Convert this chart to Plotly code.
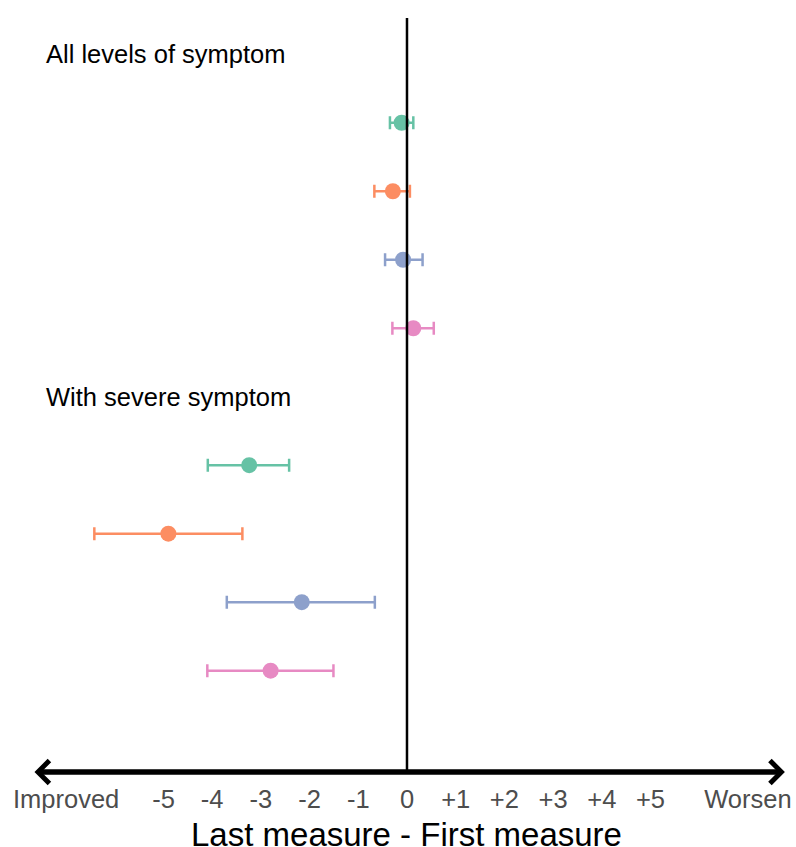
import plotly.graph_objects as go

# ---------------- data ----------------
section_labels = ["All levels of symptom", "With severe symptom"]
series_colors = ["#66c2a5", "#fc8d62", "#8da0cb", "#e78ac3"]

est_all = [-0.11, -0.29, -0.08, 0.13]
low_all = [-0.35, -0.67, -0.45, -0.30]
high_all = [0.13, 0.06, 0.32, 0.55]

est_sev = [-3.24, -4.90, -2.16, -2.80]
low_sev = [-4.09, -6.42, -3.70, -4.10]
high_sev = [-2.42, -3.38, -0.66, -1.51]

tick_vals = [-7, -5, -4, -3, -2, -1, 0, 1, 2, 3, 4, 5, 7]
tick_text = ["Improved", "-5", "-4", "-3", "-2", "-1", "0",
             "+1", "+2", "+3", "+4", "+5", "Worsen"]
x_title = "Last measure - First measure"

# ---------------- layout constants ----------------
FONT = "Liberation Sans, Arial, sans-serif"
x_range = [-8.357, 7.988]
y_range = [10.48, -0.53]
axis_y = y_range[0]

sections = [
    (0, est_all, low_all, high_all),
    (5, est_sev, low_sev, high_sev),
]

fig = go.Figure()
for row0, est, lo, hi in sections:
    for i, (e, l, h) in enumerate(zip(est, lo, hi)):
        fig.add_trace(go.Scatter(
            x=[e], y=[row0 + 1 + i],
            mode="markers",
            marker=dict(color=series_colors[i], size=16, line=dict(width=0)),
            error_x=dict(type="data", symmetric=False,
                         array=[h - e], arrayminus=[e - l],
                         color=series_colors[i], thickness=2.5, width=6.5),
            showlegend=False, cliponaxis=False, hoverinfo="skip",
        ))

annotations = []
for (row0, *_), label in zip(sections, section_labels):
    annotations.append(dict(
        x=-7.45, y=row0, xref="x", yref="y", text=label, showarrow=False,
        xanchor="left", yanchor="middle",
        font=dict(family=FONT, size=25.5, color="#000000"),
    ))

# double-headed axis arrow
annotations.append(dict(
    x=7.76, y=axis_y, ax=-7.68, ay=axis_y, xref="x", yref="y",
    axref="x", ayref="y", text="", showarrow=True,
    arrowside="end+start", arrowhead=4, startarrowhead=4,
    arrowsize=0.8, startarrowsize=0.8, arrowwidth=5.5, arrowcolor="#000000",
))

annotations.append(dict(
    x=0, y=-(835 - 772) / 754, xref="x", yref="paper",
    text=x_title, showarrow=False, xanchor="center", yanchor="middle",
    font=dict(family=FONT, size=33, color="#000000"),
))

fig.add_shape(type="line", x0=0, x1=0, y0=y_range[1], y1=axis_y,
              xref="x", yref="y", line=dict(color="#000000", width=2.5))

fig.update_layout(
    width=796, height=847,
    margin=dict(l=0, r=0, t=18, b=75),
    paper_bgcolor="white", plot_bgcolor="white",
    annotations=annotations,
    xaxis=dict(range=x_range, tickvals=tick_vals, ticktext=tick_text,
               showgrid=False, zeroline=False, showline=False, ticks="",
               ticklabelstandoff=9,
               tickfont=dict(family=FONT, size=25.5, color="#4d4d4d")),
    yaxis=dict(range=y_range, showgrid=False, zeroline=False,
               showline=False, showticklabels=False, ticks=""),
)

fig.write_html(
    "out.html",
    config={"displayModeBar": False},
    post_script="document.body.style.margin='0';document.body.style.overflow='hidden';",
)
